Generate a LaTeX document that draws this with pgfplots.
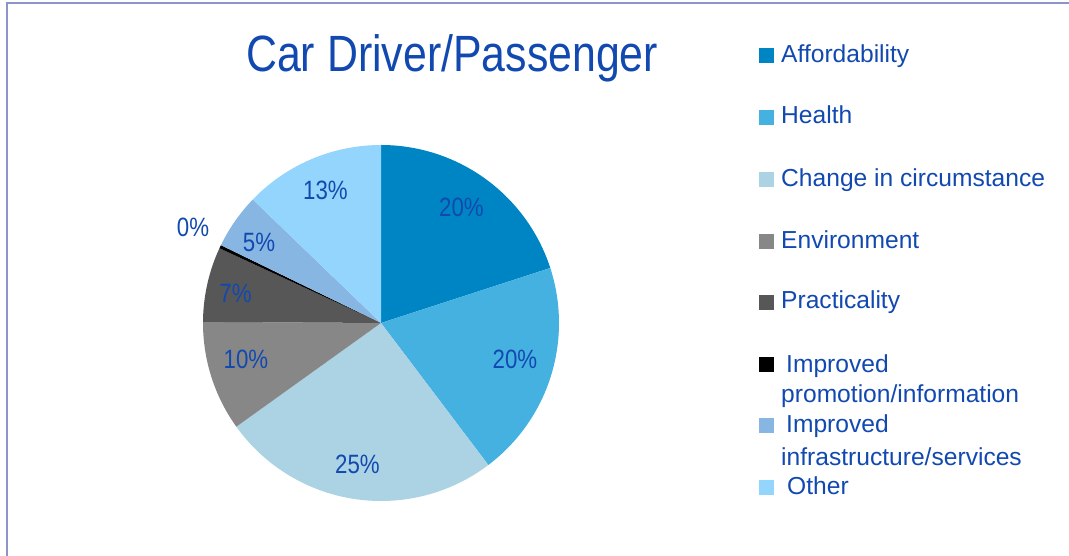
\documentclass[border=0pt]{standalone}
\usepackage{pgfplots}
\pgfplotsset{compat=1.18}
\usepackage{fontspec}
\setmainfont{Liberation Sans}
\newfontfamily\condfont[FakeStretch=0.84]{Liberation Sans}
\definecolor{cAff}{HTML}{0085C4}
\definecolor{cHea}{HTML}{45B1E1}
\definecolor{cCha}{HTML}{ABD3E3}
\definecolor{cEnv}{HTML}{878787}
\definecolor{cPra}{HTML}{575757}
\definecolor{cPro}{HTML}{000000}
\definecolor{cInf}{HTML}{88B6E3}
\definecolor{cOth}{HTML}{93D5FC}
\definecolor{txt}{HTML}{1149B0}
\definecolor{frame}{HTML}{8C94CC}
% shares in percent, clockwise from 12 o'clock
\def\vAff{20.0}\def\vHea{19.7}\def\vCha{25.4}\def\vEnv{10.0}
\def\vPra{6.8}\def\vPro{0.3}\def\vInf{5.0}\def\vOth{12.8}
\newcommand\slice[3]{\addplot[draw=none,fill=#3,domain=#1:#2,samples=90,variable=\t]%
  ({381+178*cos(\t)},{233+178*sin(\t)}) -- (axis cs:381,233) -- cycle;}
\begin{document}
\begin{tikzpicture}
\pgfmathsetmacro\aA{90}
\pgfmathsetmacro\aB{\aA-3.6*\vAff}
\pgfmathsetmacro\aC{\aB-3.6*\vHea}
\pgfmathsetmacro\aD{\aC-3.6*\vCha}
\pgfmathsetmacro\aE{\aD-3.6*\vEnv}
\pgfmathsetmacro\aF{\aE-3.6*\vPra}
\pgfmathsetmacro\aG{\aF-3.6*\vPro}
\pgfmathsetmacro\aH{\aG-3.6*\vInf}
\pgfmathsetmacro\aI{\aH-3.6*\vOth}
\begin{axis}[scale only axis, width=1069pt, height=556pt,
  xmin=0, xmax=1069, ymin=0, ymax=556, hide axis, clip=false]
\slice{\aB}{\aA}{cAff}
\slice{\aC}{\aB}{cHea}
\slice{\aD}{\aC}{cCha}
\slice{\aE}{\aD}{cEnv}
\slice{\aF}{\aE}{cPra}
\slice{\aG}{\aF}{cPro}
\slice{\aH}{\aG}{cInf}
\slice{\aI}{\aH}{cOth}
% frame
\draw[frame, line width=2pt] (axis cs:7,0) -- (axis cs:7,553) -- (axis cs:1069,553);
% title
\node[anchor=base west, inner sep=0pt, text=txt, font=\condfont\fontsize{51}{60}\selectfont] at (axis cs:246,484) {Car Driver/Passenger};
% data labels
\begin{scope}[every node/.style={anchor=base, inner sep=0pt, text=txt, font=\condfont\fontsize{26.5}{30}\selectfont}]
\node at (axis cs:461.5,339) {20\%};
\node at (axis cs:515,187) {20\%};
\node at (axis cs:357.5,82) {25\%};
\node at (axis cs:246,187) {10\%};
\node at (axis cs:235.5,253) {7\%};
\node at (axis cs:193,319) {0\%};
\node at (axis cs:259,304) {5\%};
\node at (axis cs:325.5,356) {13\%};
\end{scope}
% legend
\fill[cAff] (axis cs:759,493) rectangle (axis cs:774,508);
\fill[cHea] (axis cs:759,431) rectangle (axis cs:774,446);
\fill[cCha] (axis cs:759,369) rectangle (axis cs:774,384);
\fill[cEnv] (axis cs:759,307) rectangle (axis cs:774,322);
\fill[cPra] (axis cs:759,246) rectangle (axis cs:774,261);
\fill[cPro] (axis cs:759,184) rectangle (axis cs:774,199);
\fill[cInf] (axis cs:759,123) rectangle (axis cs:774,138);
\fill[cOth] (axis cs:759,61) rectangle (axis cs:774,76);
\begin{scope}[every node/.style={anchor=base west, inner sep=0pt, text=txt, font=\fontsize{24.6}{30}\selectfont}]
\node at (axis cs:781,493) {Affordability};
\node at (axis cs:781,432) {Health};
\node at (axis cs:781,369) {Change in circumstance};
\node at (axis cs:781,307) {Environment};
\node at (axis cs:781,247) {Practicality};
\node at (axis cs:786,183) {Improved};
\node at (axis cs:781,153) {promotion/information};
\node at (axis cs:786,123) {Improved};
\node at (axis cs:781,90) {infrastructure/services};
\node at (axis cs:787,61) {Other};
\end{scope}
\end{axis}
\pgfresetboundingbox
\path (current axis.south west) rectangle (current axis.north east);
\end{tikzpicture}
\end{document}
